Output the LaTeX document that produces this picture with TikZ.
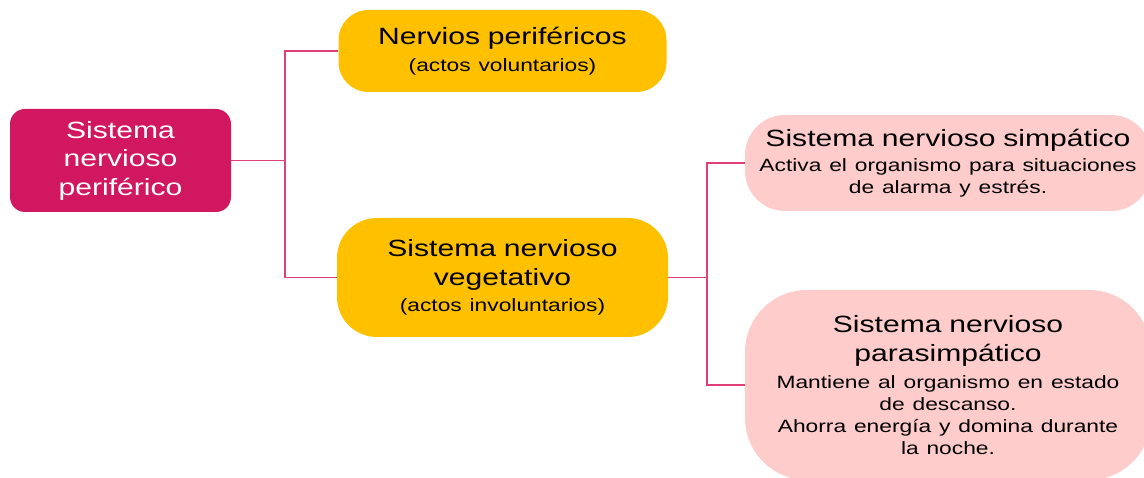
\documentclass[tikz,border=0pt]{standalone}
\usepackage{fontspec}
\setmainfont{Liberation Sans}[FakeStretch=1.28]
\usetikzlibrary{trees}

\definecolor{rootred}{RGB}{208,23,95}
\definecolor{amber}{RGB}{255,192,0}
\definecolor{blush}{RGB}{255,204,204}
\definecolor{linkpink}{RGB}{226,62,122}

\newcommand{\bigtxt}{\fontsize{23.5}{28.5}\selectfont}
\newcommand{\smalltxt}{\fontsize{17.8}{22}\selectfont}
\newcommand{\subpar}[1]{\par\vspace{#1}\smalltxt}
\newcommand{\closepar}{\par}

\tikzset{
  box/.style={inner sep=0pt, align=center, font=\bigtxt},
  rootbox/.style={box, fill=rootred, text=white, rounded corners=15pt, minimum width=221pt, minimum height=103pt, text width=210pt},
  amberbox/.style={box, fill=amber, text=black, text width=320pt},
  blushbox/.style={box, fill=blush, text=black, minimum width=406pt, text width=396pt}
}

\begin{document}
\begin{tikzpicture}[x=1pt, y=-1pt,
  level 1/.style={grow via three points={one child at (382,0) and two children at (382,-109.5) and (382,117)}, edge from parent path={(\tikzparentnode.east) -- ++(54,0) |- (\tikzchildnode.west)}},
  level 2/.style={grow via three points={one child at (445.5,0) and two children at (445.5,-114.5) and (445.5,107.5)}, edge from parent path={(\tikzparentnode.east) -- ++(38.5,0) |- (\tikzchildnode.west)}},
  edge from parent/.style={draw=linkpink, line width=1.8pt}]
\useasboundingbox (0,0) rectangle (1144,478);
\clip (0,0) rectangle (1144,478);
\node (snp) [rootbox] at (120.5,160.5) {Sistema\\nervioso\\periférico}
    child { node (nperif) [amberbox, minimum width=328pt, minimum height=82pt, rounded corners=30pt] {Nervios periféricos\subpar{5pt}(actos voluntarios)\closepar}
        }
    child { node (snveg) [amberbox, minimum width=331pt, minimum height=119pt, rounded corners=40pt] {Sistema nervioso\\vegetativo\subpar{4pt}(actos involuntarios)\closepar}
        child { node (simp) [blushbox, minimum height=96pt, rounded corners=40pt] {Sistema nervioso simpático\subpar{3pt}Activa el organismo para situaciones\\de alarma y estrés.\closepar}
            }
        child { node (parasimp) [blushbox, minimum height=190pt, rounded corners=62pt] {Sistema nervioso\\parasimpático\subpar{5pt}Mantiene al organismo en estado\\de descanso.\\Ahorra energía y domina durante\\la noche.\closepar}
            }
        };
\end{tikzpicture}
\end{document}
